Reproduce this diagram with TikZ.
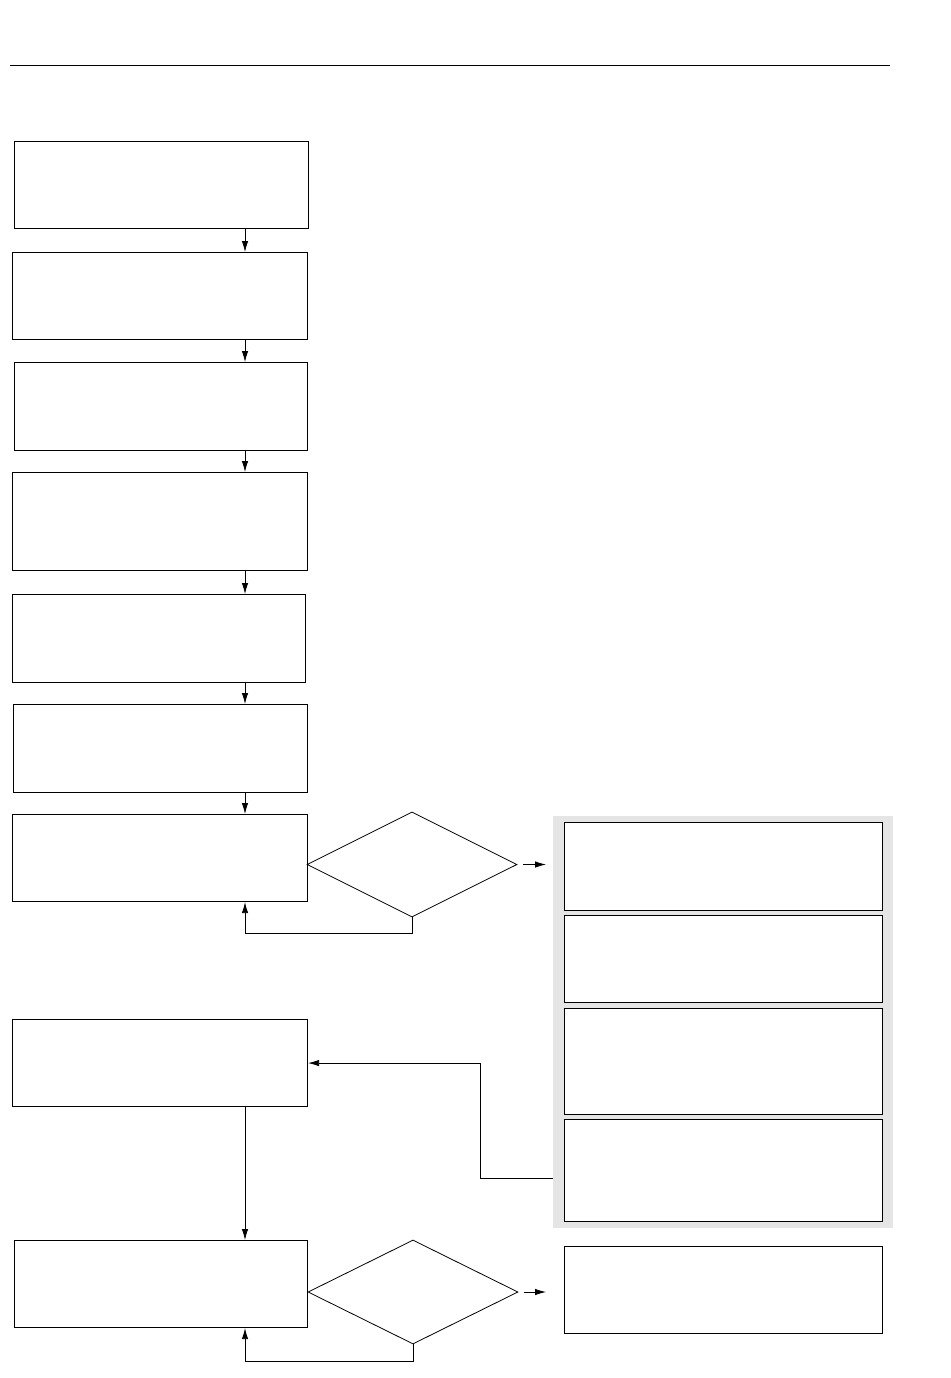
\documentclass[tikz,border=0pt]{standalone}
\usetikzlibrary{arrows.meta,shapes.geometric}
\begin{document}
\begin{tikzpicture}[x=1pt,y=-1pt,
    box/.style={draw,fill=white,line width=1.1pt,anchor=north west,inner sep=0pt,minimum width=295pt,minimum height=87pt},
    test/.style={draw,line width=0.8pt,shape=diamond,inner sep=0pt,minimum width=210pt,minimum height=105pt},
    >={Latex[length=11pt,width=6.5pt]},line width=0.8pt]
    \useasboundingbox (0,0) rectangle (950,1378);
    \draw [line width=1pt] (10,66) -- (890,66);
    \coordinate (spine) at (245,0);
    \node[box,minimum width=294pt] (b1) at (14,141) {};
    \node[box] (b2) at (12,252) {};
    \node[box,minimum width=293pt,minimum height=88pt] (b3) at (14,362) {};
    \node[box,minimum height=98pt] (b4) at (12,472) {};
    \node[box,minimum width=293pt,minimum height=88pt] (b5) at (12,594) {};
    \node[box,minimum width=294pt,minimum height=88pt] (b6) at (13,704) {};
    \node[box] (b7) at (12,814) {};
    \node[test] (d1) at (412,864.5) {};
    \node[fill=black!10,anchor=north west,inner sep=0pt,minimum width=340pt,minimum height=412pt] (panel) at (553,816) {};
    \node[box,minimum width=318pt,minimum height=88pt] (p1) at (564,822) {};
    \node[box,minimum width=318pt,minimum height=87pt] (p2) at (564,915) {};
    \node[box,minimum width=318pt,minimum height=106pt] (p3) at (564,1008) {};
    \node[box,minimum width=318pt,minimum height=102pt] (p4) at (564,1119) {};
    \node[box] (b8) at (12,1019) {};
    \node[box,minimum width=293pt] (b9) at (14,1240) {};
    \node[test,minimum height=104pt] (d2) at (413,1292) {};
    \node[box,minimum width=318pt,minimum height=87pt] (e1) at (564,1246) {};
    \coordinate (l1) at (245,933);
    \coordinate (l2) at (245,1361);
    \coordinate (r1) at (480,1178);
    \draw [->] (b1.south -| spine) -- (b2.north -| spine);
    \draw [->] (b2.south -| spine) -- (b3.north -| spine);
    \draw [->] (b3.south -| spine) -- (b4.north -| spine);
    \draw [->] (b4.south -| spine) -- (b5.north -| spine);
    \draw [->] (b5.south -| spine) -- (b6.north -| spine);
    \draw [->] (b6.south -| spine) -- (b7.north -| spine);
    \draw [->,shorten <=6pt,shorten >=7pt] (d1.east) -- (panel.west |- d1.east);
    \draw [->] (d1.south) |- (l1) -- (b7.south -| l1);
    \draw [->] (panel.west |- r1) -- (r1) |- (b8.east);
    \draw [->] (b8.south -| spine) -- (b9.north -| spine);
    \draw [->,shorten <=6pt,shorten >=18pt] (d2.east) -- (e1.west |- d2.east);
    \draw [->] (d2.south) |- (l2) -- (b9.south -| l2);
\end{tikzpicture}
\end{document}
